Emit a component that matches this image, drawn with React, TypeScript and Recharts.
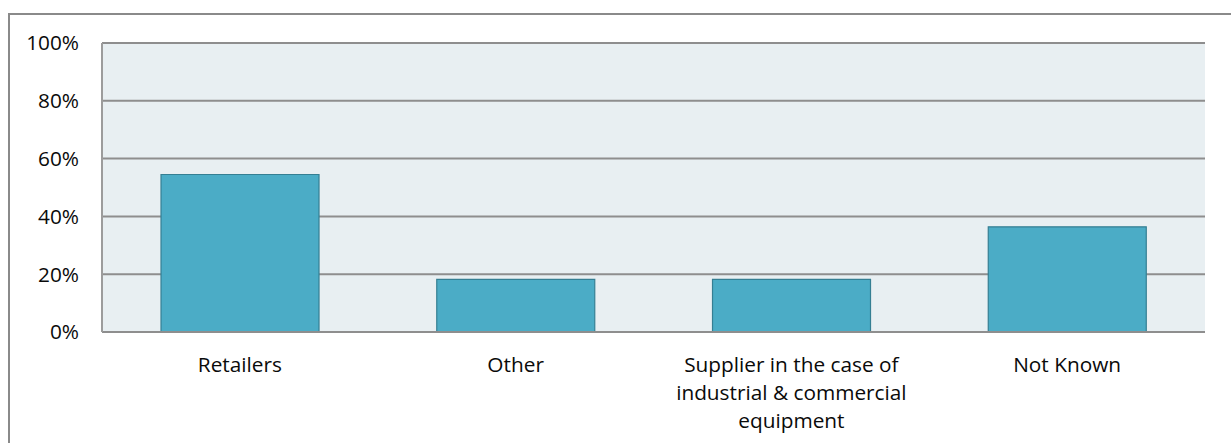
import React from "react";
import { BarChart, Bar, XAxis, YAxis, CartesianGrid } from "recharts";

const categories: string[] = [
  "Retailers",
  "Other",
  "Supplier in the case of industrial & commercial equipment",
  "Not Known",
];
const shares: number[] = [54.5, 18.2, 18.2, 36.4];
const yTicks: number[] = [0, 20, 40, 60, 80, 100];

const data = categories.map((name, i) => ({ name, share: shares[i] }));

const FONT = "'Open Sans', sans-serif";

function wrapLabel(text: string, maxChars: number): string[] {
  const words = text.split(" ");
  const lines: string[] = [];
  let cur = "";
  for (const w of words) {
    const next = cur ? cur + " " + w : w;
    if (next.length > maxChars && cur) {
      lines.push(cur);
      cur = w;
    } else {
      cur = next;
    }
  }
  if (cur) lines.push(cur);
  return lines;
}

const XTick = (props: any) => {
  const { x, y, payload } = props;
  const lines = wrapLabel(String(payload.value), 23);
  return (
    <text
      x={x}
      y={y}
      textAnchor="middle"
      fontFamily={FONT}
      fontSize={20.8}
      fill="#0a0a0a"
    >
      {lines.map((l, i) => (
        <tspan key={i} x={x} dy={i === 0 ? 40 : 27.8}>
          {l}
        </tspan>
      ))}
    </text>
  );
};

export default function App() {
  return (
    <div
      style={{
        position: "absolute",
        left: 0,
        top: 0,
        width: 1231,
        height: 443,
        background: "#fff",
        overflow: "hidden",
      }}
    >
      <div
        style={{
          position: "absolute",
          left: 8,
          top: 13,
          width: 1300,
          height: 500,
          border: "2px solid #8a8a8a",
          boxSizing: "border-box",
        }}
      />
      <div style={{ position: "absolute", left: 0, top: 0 }}>
        <BarChart
          width={1231}
          height={443}
          data={data}
          margin={{ top: 43, right: 26, left: 22, bottom: 0 }}
          barCategoryGap="21.4%"
        >
          <CartesianGrid
            vertical={false}
            horizontal={true}
            fill="#E8EFF2"
            stroke="#8E8E8E"
            strokeWidth={2}
          />
          <XAxis
            dataKey="name"
            height={111}
            tickLine={false}
            tickSize={0}
            tickMargin={0}
            axisLine={{ stroke: "#8E8E8E", strokeWidth: 2 }}
            tick={<XTick />}
            interval={0}
          />
          <YAxis
            width={80}
            domain={[0, 100]}
            ticks={yTicks}
            tickFormatter={(v: number) => `${v}%`}
            tickLine={false}
            tickSize={0}
            tickMargin={23}
            axisLine={{ stroke: "#9c9c9c", strokeWidth: 2 }}
            tick={{ fontFamily: FONT, fontSize: 20.8, fill: "#0a0a0a" }}
          />
          <Bar
            dataKey="share"
            fill="#4BACC6"
            stroke="#357F93"
            strokeWidth={1.2}
            isAnimationActive={false}
          />
        </BarChart>
      </div>
    </div>
  );
}
